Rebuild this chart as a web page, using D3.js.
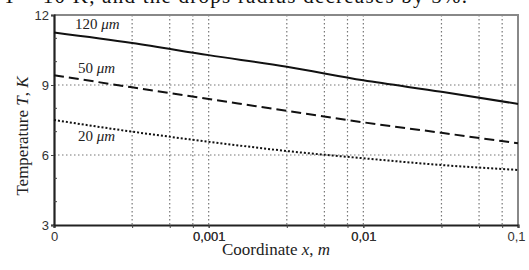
<!DOCTYPE html>
<html lang="en">
<head>
<meta charset="utf-8">
<title>Temperature vs coordinate</title>
<script src="https://d3js.org/d3.v7.min.js"></script>
<style>
body { margin: 0; background: #fff; }
.tick text { font-family: "Liberation Sans", Arial, sans-serif; font-size: 13px; fill: #333; }
.grid line { stroke: #777; stroke-width: 1.2; stroke-dasharray: 1.5,2.5; }
.title { font-family: "Liberation Serif", "Times New Roman", serif; font-size: 17px; fill: #222; }
.lbl { font-family: "Liberation Serif", "Times New Roman", serif; font-size: 15px; fill: #222; }
.caption { font-family: "Liberation Serif", "Times New Roman", serif; font-size: 21px; fill: #111; }
</style>
</head>
<body>
<script>
// data
var xs = [1e-4, 3.2e-4, 1e-3, 3.2e-3, 1e-2, 3.2e-2, 0.1];
var t120 = [11.25, 10.8, 10.28, 9.78, 9.2, 8.71, 8.19];
var t50 = [9.42, 8.9, 8.4, 7.89, 7.4, 6.95, 6.5];
var t20 = [7.5, 7.0, 6.57, 6.17, 5.86, 5.57, 5.36];
var xTicks = [1e-4, 1e-3, 1e-2, 0.1];
var xTickLabels = ["0", "0,001", "0,01", "0,1"];
var xGrid = [3.2e-4, 5.6e-4, 7.9e-4, 1e-3, 3.2e-3, 5.6e-3, 7.9e-3, 1e-2, 3.2e-2, 5.6e-2, 7.9e-2];
var yTicks = [3, 6, 9, 12];
var yMinor = [4, 5, 7, 8, 10, 11];
var seriesNames = ["120 ", "50 ", "20 "];

var w = 529, h = 270;
var pL = 54, pR = 518, pT = 15, pB = 225;

var svg = d3.select("body").append("svg")
  .attr("width", w).attr("height", h);

var x = d3.scaleLog().domain([1e-4, 0.1]).range([pL, pR]);
var y = d3.scaleLinear().domain([3, 12]).range([pB, pT]);

// cropped caption at the top
svg.append("text")
  .attr("class", "caption")
  .attr("x", 3).attr("y", 3)
  .attr("textLength", 464).attr("lengthAdjust", "spacing")
  .text("T = 10 K, and the drops radius decreases by 5%.");

// grid
var grid = svg.append("g").attr("class", "grid");
grid.selectAll("line.v").data(xGrid).enter().append("line")
  .attr("x1", function(d) { return x(d); }).attr("x2", function(d) { return x(d); })
  .attr("y1", pT).attr("y2", pB);
grid.selectAll("line.h").data([6, 9]).enter().append("line")
  .attr("x1", pL).attr("x2", pR)
  .attr("y1", function(d) { return y(d); }).attr("y2", function(d) { return y(d); });

// frame top/right
svg.append("path")
  .attr("d", "M" + pL + "," + pT + "H" + pR + "V" + pB)
  .attr("fill", "none").attr("stroke", "#888").attr("stroke-width", 2);

// axes
var xAxis = svg.append("g")
  .attr("transform", "translate(0," + pB + ")")
  .call(d3.axisBottom(x).tickValues(xTicks.concat(xGrid)).tickSize(3).tickPadding(4)
    .tickFormat(function(d) { var i = xTicks.indexOf(d); return i < 0 ? "" : xTickLabels[i]; }));
xAxis.select(".domain").attr("stroke", "#222").attr("stroke-width", 2.2);
xAxis.selectAll(".tick line").attr("stroke", "#444");
xAxis.selectAll(".tick").filter(function(d) { return d === 0.1; }).select("text").attr("dx", -2);

var yAxis = svg.append("g")
  .attr("transform", "translate(" + pL + ",0)")
  .call(d3.axisLeft(y).tickValues(yTicks).tickSize(3).tickPadding(2));
yAxis.select(".domain").attr("stroke", "#222").attr("stroke-width", 2.2);
yAxis.selectAll(".tick line").attr("stroke", "#444");
yAxis.selectAll(".minor").data(yMinor).enter().append("line")
  .attr("class", "minor")
  .attr("x1", 0).attr("x2", 3)
  .attr("y1", function(d) { return y(d); }).attr("y2", function(d) { return y(d); })
  .attr("stroke", "#444");

// curves
var line = d3.line()
  .x(function(d) { return x(d[0]); })
  .y(function(d) { return y(d[1]); })
  .curve(d3.curveMonotoneX);

var series = [
  { v: t120, dash: null },
  { v: t50, dash: "10,5" },
  { v: t20, dash: "2,2" }
];
svg.selectAll("path.curve").data(series).enter().append("path")
  .attr("class", "curve")
  .attr("d", function(s) { return line(d3.zip(xs, s.v)); })
  .attr("fill", "none")
  .attr("stroke", "#111")
  .attr("stroke-width", 2)
  .attr("stroke-dasharray", function(s) { return s.dash; });

// curve labels
var lblX = [75, 78, 78], lblY = [29, 73, 141];
seriesNames.forEach(function(n, i) {
  var t = svg.append("text").attr("class", "lbl").attr("x", lblX[i]).attr("y", lblY[i]);
  t.append("tspan").text(n);
  t.append("tspan").style("font-style", "italic").text("\u03bcm");
});

// axis titles
var yt = svg.append("text").attr("class", "title")
  .attr("transform", "translate(28,136) rotate(-90)")
  .attr("text-anchor", "middle");
yt.append("tspan").text("Temperature ");
yt.append("tspan").style("font-style", "italic").text("T");
yt.append("tspan").text(", ");
yt.append("tspan").style("font-style", "italic").text("K");

var xt = svg.append("text").attr("class", "title")
  .attr("x", 276).attr("y", 255)
  .attr("text-anchor", "middle");
xt.append("tspan").text("Coordinate ");
xt.append("tspan").style("font-style", "italic").text("x");
xt.append("tspan").text(", ");
xt.append("tspan").style("font-style", "italic").text("m");
</script>
</body>
</html>
